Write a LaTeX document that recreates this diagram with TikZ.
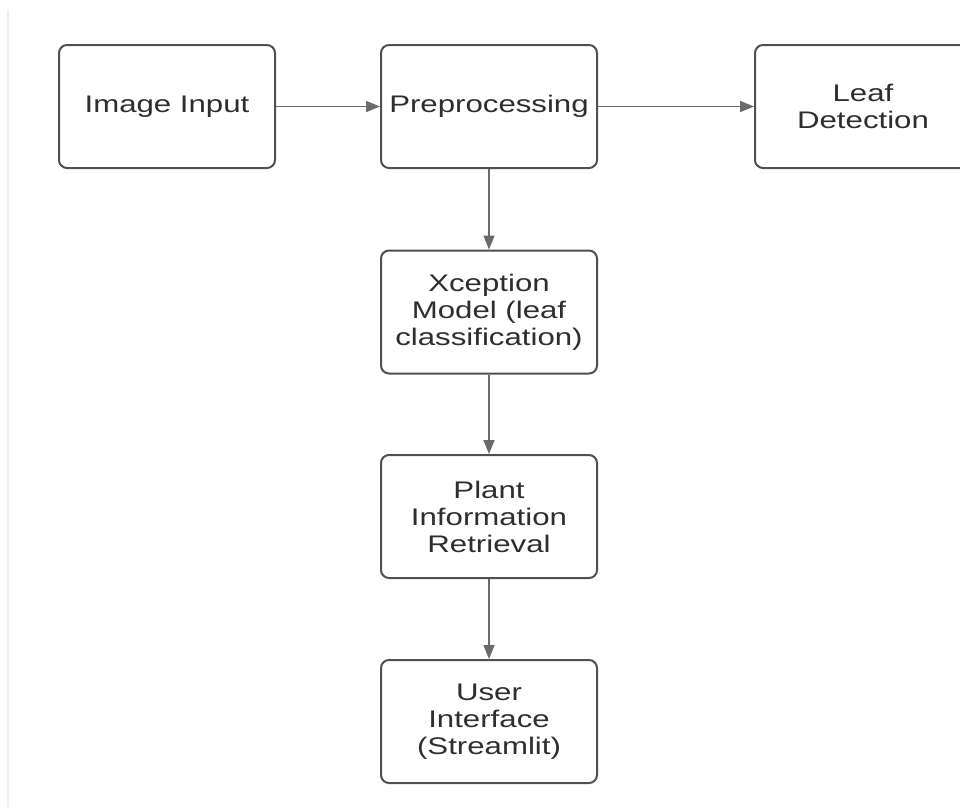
\documentclass[tikz,border=0pt]{standalone}
\usepackage{fontspec}
\setmainfont[FakeStretch=1.3]{Liberation Sans}
\usetikzlibrary{arrows.meta}
\definecolor{boxc}{HTML}{505050}
\definecolor{arrc}{HTML}{6A6A6A}
\definecolor{txt}{HTML}{2E2E2E}
\definecolor{faint}{HTML}{EEEEEE}
\tikzset{
  procbox/.style={draw=boxc, line width=2pt, rounded corners=8pt, minimum width=216pt,
    minimum height=123pt, align=center, font=\fontsize{24}{27}\selectfont, text=txt,
    inner sep=0pt, fill=white},
  flowarr/.style={draw=arrc, line width=1.5pt, -{Triangle[length=14pt,width=11pt]}}
}
\begin{document}
\begin{tikzpicture}[x=1pt,y=1pt]
\useasboundingbox (0,0) rectangle (960,-807);
\clip (0,0) rectangle (960,-807);
\fill[white] (0,0) rectangle (960,-807);
\coordinate (lt) at (8,-10);
\coordinate (lb) at (8,-807);
\draw[faint, line width=2pt] (lt) -- (lb);
\node[procbox] (img) at (167,-106.5) {Image Input};
\node[procbox] (pre) at (489,-106.5) {Preprocessing};
\node[procbox] (leaf) at (863,-106.5) {Leaf\\Detection};
\node[procbox] (xcp) at (489,-312) {Xception\\Model (leaf\\classification)};
\node[procbox] (pir) at (489,-516.5) {Plant\\Information\\Retrieval};
\node[procbox] (ui) at (489,-721.5) {User\\Interface\\(Streamlit)};
\draw[flowarr] (img.east) -- (pre.west);
\draw[flowarr] (pre.east) -- (leaf.west);
\draw[flowarr] (pre.south) -- (xcp.north);
\draw[flowarr] (xcp.south) -- (pir.north);
\draw[flowarr] (pir.south) -- (ui.north);
\end{tikzpicture}
\end{document}
